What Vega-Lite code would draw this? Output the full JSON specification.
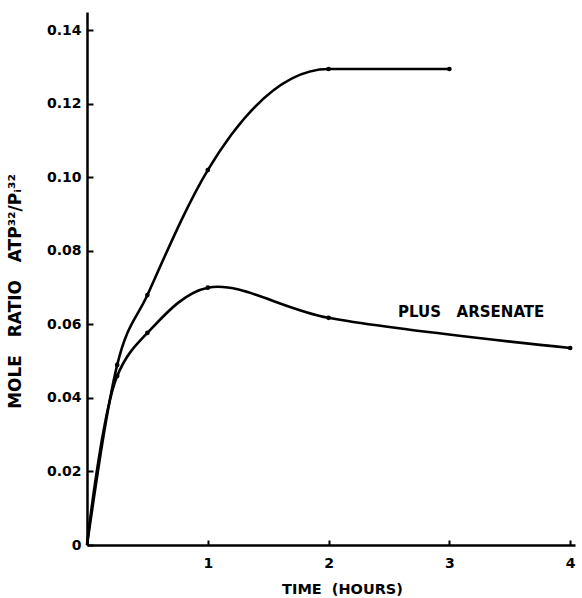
{
  "$schema": "https://vega.github.io/schema/vega-lite/v6.json",
  "width": 488,
  "height": 533,
  "autosize": "none",
  "padding": {"left": 87, "top": 12, "right": 7, "bottom": 53},
  "background": "white",
  "config": {"view": {"stroke": null}, "font": "DejaVu Sans"},
  "datasets": {
    "curves": [
      {"t": 0, "r": 0, "series": "control"},
      {"t": 0.25, "r": 0.049, "series": "control"},
      {"t": 0.5, "r": 0.068, "series": "control"},
      {"t": 1, "r": 0.102, "series": "control"},
      {"t": 2, "r": 0.1295, "series": "control"},
      {"t": 3, "r": 0.1295, "series": "control"},
      {"t": 0, "r": 0, "series": "arsenate"},
      {"t": 0.25, "r": 0.046, "series": "arsenate"},
      {"t": 0.5, "r": 0.0577, "series": "arsenate"},
      {"t": 1, "r": 0.070, "series": "arsenate"},
      {"t": 2, "r": 0.0618, "series": "arsenate"},
      {"t": 4, "r": 0.0536, "series": "arsenate"}
    ],
    "labels": [
      {"t": 3.18, "r": 0.0634, "label": "PLUS\u00a0\u00a0\u00a0ARSENATE"}
    ]
  },
  "encoding": {
    "x": {
      "field": "t", "type": "quantitative",
      "scale": {"domain": [0, 4.04], "nice": false, "zero": true},
      "axis": {
        "title": "TIME\u00a0\u00a0(HOURS)",
        "values": [1, 2, 3, 4],
        "format": "d",
        "tickSize": -5, "tickWidth": 2, "tickColor": "black",
        "domainColor": "black", "domainWidth": 2.5,
        "labelFont": "DejaVu Sans", "labelFontWeight": "bold", "labelFontSize": 14, "labelColor": "black",
        "labelPadding": 16,
        "titleFont": "DejaVu Sans", "titleFontWeight": "bold", "titleFontSize": 14.5, "titleColor": "black",
        "titlePadding": 12,
        "titleX": 255,
        "grid": false
      }
    },
    "y": {
      "field": "r", "type": "quantitative",
      "scale": {"domain": [0, 0.145], "nice": false},
      "axis": {
        "title": "MOLE\u00a0\u00a0\u00a0RATIO\u00a0\u00a0\u00a0ATP³²/Pᵢ³²",
        "values": [0, 0.02, 0.04, 0.06, 0.08, 0.1, 0.12, 0.14],
        "labelExpr": "datum.value == 0 ? '0' : format(datum.value, '.2f')",
        "tickSize": -6, "tickWidth": 2, "tickColor": "black",
        "domainColor": "black", "domainWidth": 2.5,
        "labelFont": "DejaVu Sans", "labelFontWeight": "bold", "labelFontSize": 14, "labelColor": "black",
        "labelPadding": 12,
        "titleFont": "DejaVu Sans", "titleFontWeight": "bold", "titleFontSize": 17, "titleColor": "black",
        "titleX": -63,
        "titleY": 279,
        "grid": false
      }
    }
  },
  "layer": [
    {
      "data": {"name": "curves"},
      "transform": [{"filter": "datum.series == 'control'"}],
      "mark": {"type": "line", "interpolate": "monotone", "color": "black", "strokeWidth": 2.6}
    },
    {
      "data": {"name": "curves"},
      "transform": [{"filter": "datum.series == 'arsenate'"}],
      "mark": {"type": "line", "interpolate": "catmull-rom", "color": "black", "strokeWidth": 2.6}
    },
    {
      "data": {"name": "curves"},
      "transform": [{"filter": "datum.t > 0"}],
      "mark": {"type": "point", "filled": true, "color": "black", "size": 22, "opacity": 1}
    },
    {
      "data": {"name": "labels"},
      "mark": {"type": "text", "font": "DejaVu Sans", "fontWeight": "bold", "fontSize": 15, "color": "black"},
      "encoding": {
        "text": {"field": "label"}
      }
    }
  ]
}
